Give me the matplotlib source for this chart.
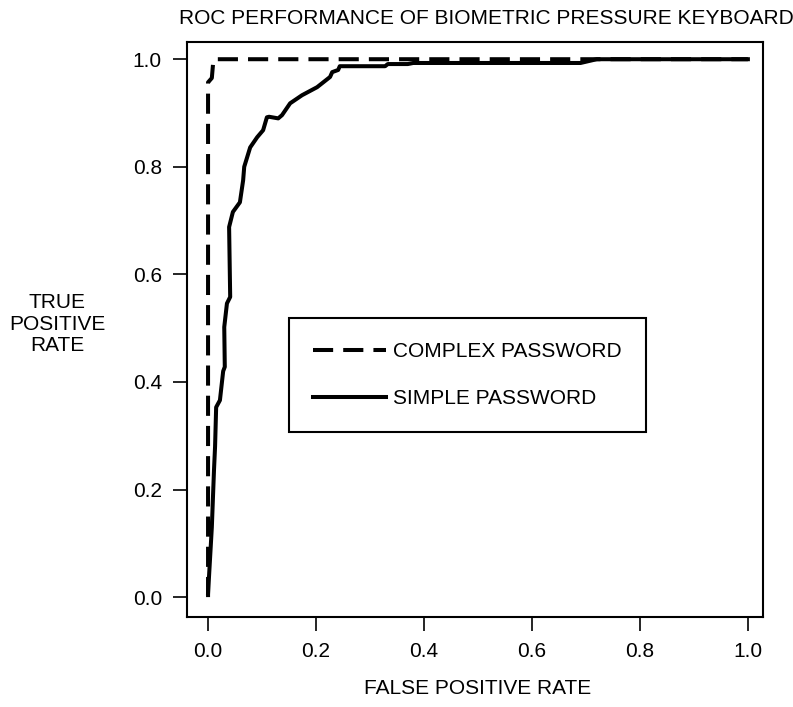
import matplotlib
matplotlib.use('Agg')
import matplotlib.pyplot as plt

# puntos
complex_fpr = [0.0, 0.0, 0.007, 0.010, 1.0]
complex_tpr = [0.0, 0.957, 0.965, 1.0, 1.0]

simple_fpr = [0.0, 0.007, 0.011, 0.013, 0.015, 0.022, 0.028, 0.031, 0.030, 0.035,
              0.041, 0.039, 0.046, 0.059, 0.065, 0.067, 0.078, 0.091, 0.102, 0.109,
              0.113, 0.130, 0.137, 0.152, 0.174, 0.202, 0.226, 0.230, 0.241, 0.244,
              0.328, 0.333, 0.37, 0.38, 0.69, 0.72, 1.0]
simple_tpr = [0.007, 0.13, 0.236, 0.28, 0.353, 0.366, 0.42, 0.428, 0.502, 0.546,
              0.558, 0.688, 0.716, 0.734, 0.775, 0.80, 0.836, 0.855, 0.868, 0.892,
              0.893, 0.89, 0.896, 0.918, 0.933, 0.948, 0.967, 0.976, 0.98, 0.987,
              0.987, 0.991, 0.991, 0.993, 0.993, 1.0, 1.0]

ticks = [0.0, 0.2, 0.4, 0.6, 0.8, 1.0]
tick_labels = ['0.0', '0.2', '0.4', '0.6', '0.8', '1.0']

FS = 15
plt.rcParams['font.family'] = ['Liberation Sans', 'DejaVu Sans']
plt.rcParams['font.size'] = FS

W, H = 793, 707
fig = plt.figure(figsize=(W / 100, H / 100), dpi=100)
ax = fig.add_axes([187 / W, 1 - 617 / H, (763 - 187) / W, (617 - 42) / H])

ax.plot(complex_fpr, complex_tpr, color='black', lw=2.9, dashes=(5, 2.5),
        solid_joinstyle='miter', label='COMPLEX PASSWORD')
ax.plot(simple_fpr, simple_tpr, color='black', lw=2.9,
        solid_joinstyle='round', label='SIMPLE PASSWORD')

ax.set_xlim(-0.039, 1.028)
ax.set_ylim(-0.037, 1.032)
ax.set_xticks(ticks)
ax.set_xticklabels(tick_labels)
ax.set_yticks(ticks)
ax.set_yticklabels(tick_labels)
ax.tick_params(length=10, width=1.2, pad=8, labelsize=FS)
for s in ax.spines.values():
    s.set_linewidth(1.5)

fig.text(486 / W, 1 - 19 / H, 'ROC PERFORMANCE OF BIOMETRIC PRESSURE KEYBOARD',
         ha='center', va='center', fontsize=FS)
fig.text(478 / W, 1 - 689 / H, 'FALSE POSITIVE RATE', ha='center', va='center', fontsize=FS)
fig.text(57 / W, 1 - 324 / H, 'TRUE\nPOSITIVE\nRATE', ha='center', va='center',
         fontsize=FS, linespacing=1.15)

leg = ax.legend(loc='upper left', bbox_to_anchor=(289 / W, 1 - 318 / H),
                bbox_transform=fig.transFigure, fontsize=FS, frameon=True,
                fancybox=False, framealpha=1, edgecolor='black',
                handlelength=3.5, handletextpad=0.35,
                labelspacing=1.35, borderpad=1.15, borderaxespad=0)
leg.get_frame().set_linewidth(1.5)

fig.savefig('out.png', dpi=100)
